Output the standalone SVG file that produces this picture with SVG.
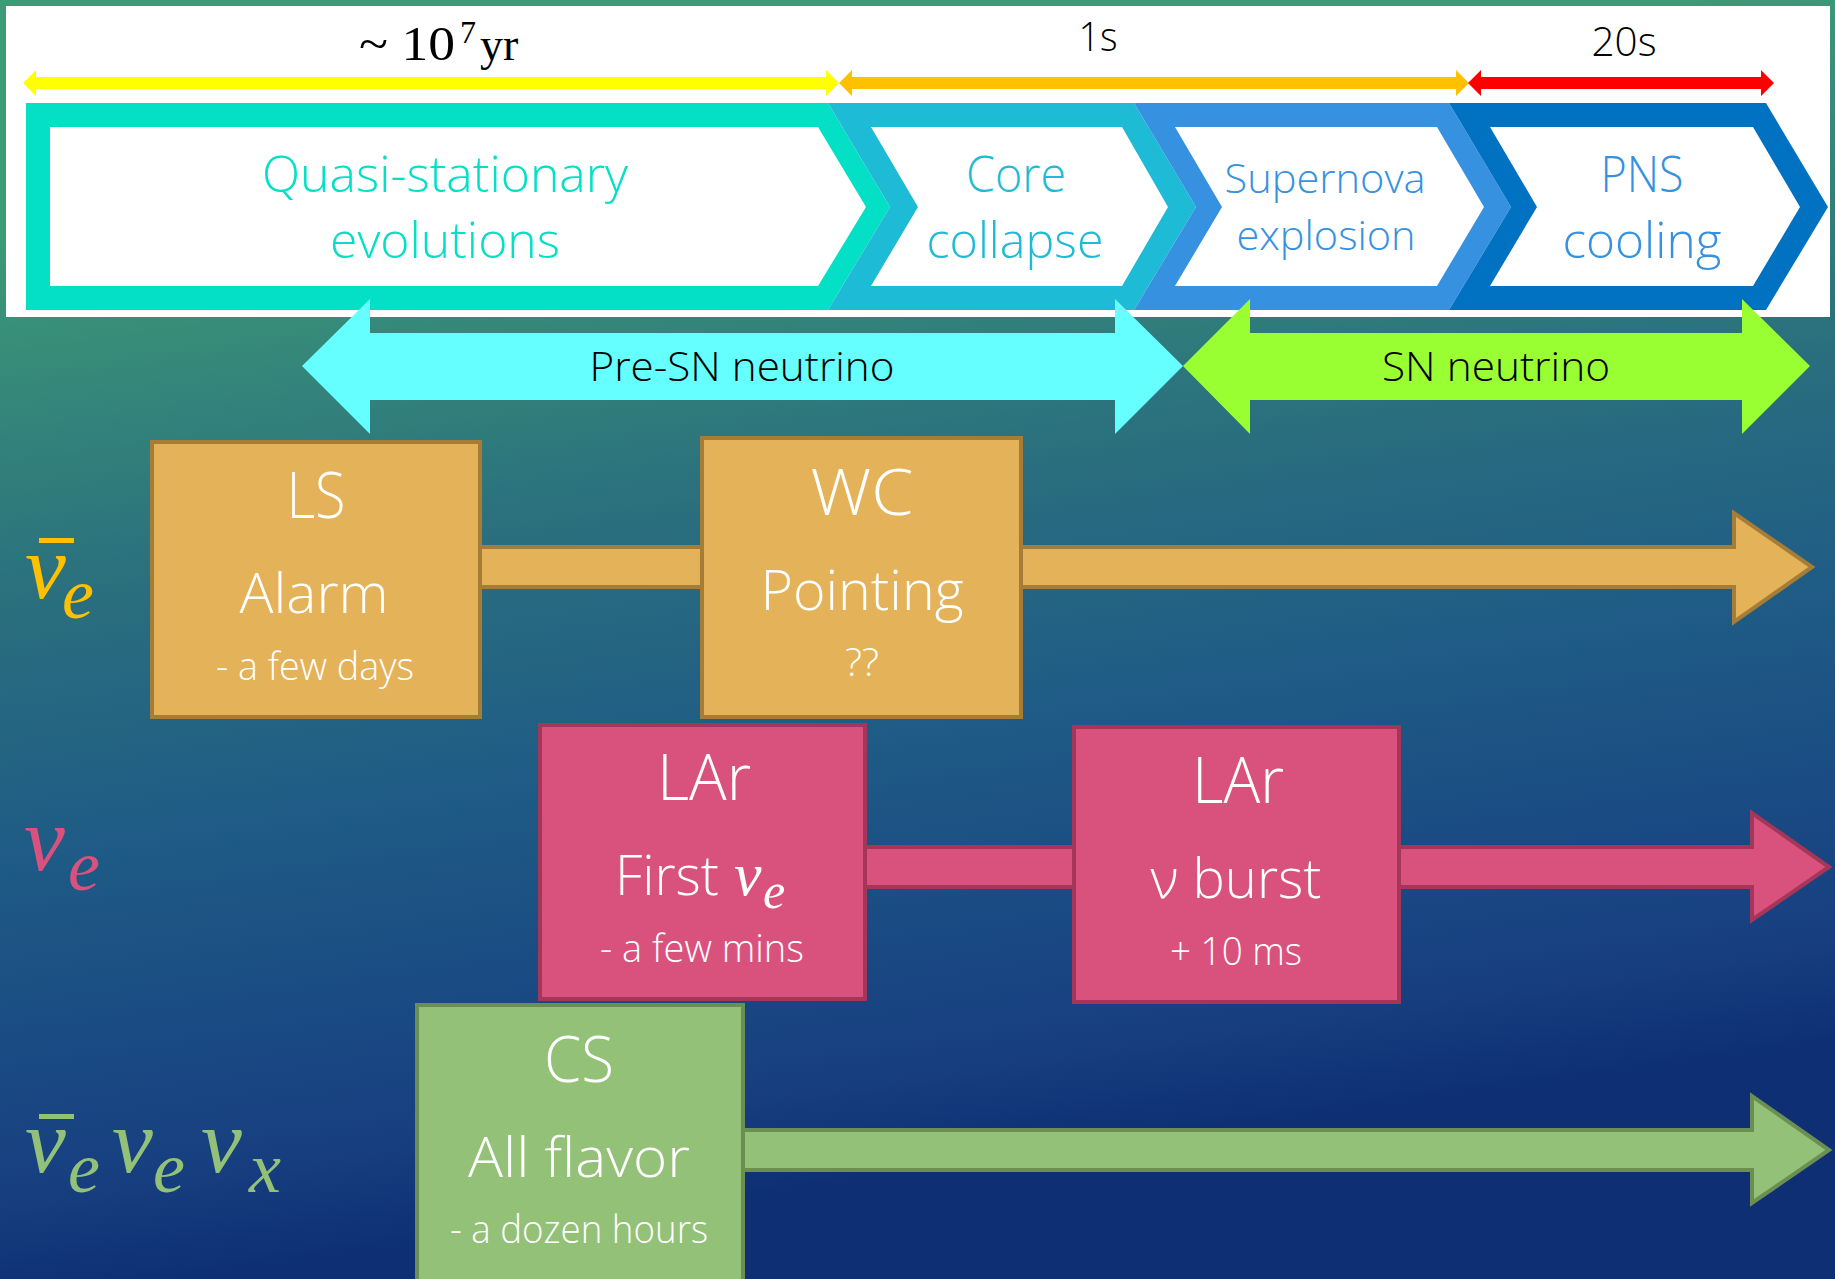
<svg xmlns="http://www.w3.org/2000/svg" width="1835" height="1279" viewBox="0 0 1835 1279">
<defs>
<linearGradient id="bg" x1="0" y1="230" x2="150" y2="1280" gradientUnits="userSpaceOnUse">
<stop offset="0" stop-color="#3D9B76"/>
<stop offset="0.35" stop-color="#2A6F7E"/>
<stop offset="0.6" stop-color="#1E5A86"/>
<stop offset="0.9" stop-color="#173F80"/>
<stop offset="1" stop-color="#0E2F74"/>
</linearGradient>
<style>
.t{font-family:"Open Sans","Liberation Sans",sans-serif;font-weight:300;text-anchor:middle}
.w{fill:#FFFFFF}
.big{font-size:64px}
.mid{font-size:56px}
.sm{font-size:38px}
.ch{font-size:49px}
.math{font-family:"Liberation Serif","DejaVu Serif",serif;font-style:italic}
.nu{font-size:92px}
.sub{font-size:72px}
.box{stroke-width:4}
.ob{fill:#E4B258;stroke:#A67D36}
.pb{fill:#D9527E;stroke:#A53659}
.gb{fill:#93C178;stroke:#6B8F52}
</style>
</defs>
<rect x="0" y="0" width="1835" height="1279" fill="url(#bg)"/>

<g id="header">
<rect x="6" y="6" width="1824" height="311" fill="#FFFFFF"/>
</g>

<g id="timeline-arrows">
<polygon points="23,83 36,70 36,77 826,77 826,70 839,83 826,96 826,89 36,89 36,96" fill="#FFFF00"/>
<polygon points="839,83 852,70 852,77 1456,77 1456,70 1469,83 1456,96 1456,89 852,89 852,96" fill="#FFC000"/>
<polygon points="1468,83 1481,70 1481,77 1761,77 1761,70 1774,83 1761,96 1761,89 1481,89 1481,96" fill="#FF0000"/>
<text font-family="Liberation Serif, serif" fill="#000"><tspan x="359" y="60" font-size="48" textLength="96" lengthAdjust="spacingAndGlyphs">~ 10</tspan><tspan x="460" y="43" font-size="32">7</tspan><tspan x="480" y="60" font-size="46">yr</tspan></text>
<text class="t" x="1098" y="51" font-size="41" fill="#000" textLength="39" lengthAdjust="spacingAndGlyphs">1s</text>
<text class="t" x="1624" y="56" font-size="41" fill="#000" textLength="65" lengthAdjust="spacingAndGlyphs">20s</text>
</g>

<g id="phase-quasi">
<polygon points="26,103 828,103 890,207 828,310 26,310" fill="#03E0C6"/>
<polygon points="50,127 818,127 866,207 818,286 50,286" fill="#FFFFFF"/>
<text class="t ch" x="445" y="192" fill="#03E0C6" textLength="366" lengthAdjust="spacingAndGlyphs">Quasi-stationary</text>
<text class="t ch" x="445" y="258" fill="#03E0C6" textLength="230" lengthAdjust="spacingAndGlyphs">evolutions</text>
</g>
<g id="phase-core">
<polygon points="828,103 1134,103 1196,207 1134,310 828,310 890,207" fill="#1DBBD6"/>
<polygon points="871,127 1122,127 1168,207 1122,286 871,286 918,207" fill="#FFFFFF"/>
<text class="t ch" x="1016" y="192" fill="#1DBBD6" textLength="100" lengthAdjust="spacingAndGlyphs">Core</text>
<text class="t ch" x="1015" y="258" fill="#1DBBD6" textLength="177" lengthAdjust="spacingAndGlyphs">collapse</text>
</g>
<g id="phase-supernova">
<polygon points="1134,103 1449,103 1511,207 1449,310 1134,310 1196,207" fill="#3692E0"/>
<polygon points="1175,127 1437,127 1484,207 1437,286 1175,286 1222,207" fill="#FFFFFF"/>
<text class="t" x="1325" y="193" font-size="40" fill="#3692E0" textLength="201" lengthAdjust="spacingAndGlyphs">Supernova</text>
<text class="t" x="1326" y="250" font-size="40" fill="#3692E0" textLength="179" lengthAdjust="spacingAndGlyphs">explosion</text>
</g>
<g id="phase-pns">
<polygon points="1449,103 1766,103 1828,207 1766,310 1449,310 1511,207" fill="#0171C1"/>
<polygon points="1490,127 1753,127 1800,207 1753,286 1490,286 1537,207" fill="#FFFFFF"/>
<text class="t ch" x="1642" y="192" fill="#3692E0" textLength="83" lengthAdjust="spacingAndGlyphs">PNS</text>
<text class="t ch" x="1642" y="258" fill="#3692E0" textLength="159" lengthAdjust="spacingAndGlyphs">cooling</text>
</g>

<g id="pre-sn-neutrino">
<polygon points="302,366 370,299 370,333 1115,333 1115,299 1183,366 1115,434 1115,400 370,400 370,434" fill="#66FFFF"/>
<text class="t" x="742" y="381" font-size="41" fill="#000" textLength="305" lengthAdjust="spacingAndGlyphs">Pre-SN neutrino</text>
</g>
<g id="sn-neutrino">
<polygon points="1183,366 1250,299 1250,333 1742,333 1742,299 1810,366 1742,434 1742,400 1250,400 1250,434" fill="#99FF33"/>
<text class="t" x="1496" y="381" font-size="41" fill="#000" textLength="228" lengthAdjust="spacingAndGlyphs">SN neutrino</text>
</g>

<g id="connectors">
<rect class="ob box" x="479" y="547" width="224" height="40"/>
<polygon class="ob box" points="1020,547 1734,547 1734,513 1812,567 1734,622 1734,587 1020,587"/>
<rect class="pb box" x="865" y="847" width="210" height="40"/>
<polygon class="pb box" points="1398,847 1752,847 1752,813 1829,867 1752,920 1752,887 1398,887"/>
<polygon class="gb box" points="742,1130 1752,1130 1752,1096 1829,1150 1752,1203 1752,1170 742,1170"/>
</g>

<g id="label-antinu-e" fill="#FFC000">
<rect x="39" y="538" width="35" height="5"/>
<text class="math"><tspan class="nu" x="25" y="598">ν</tspan><tspan class="sub" x="62" y="618">e</tspan></text>
</g>
<g id="label-nu-e" fill="#D9527E">
<text class="math"><tspan class="nu" x="24" y="870">ν</tspan><tspan class="sub" x="68" y="890">e</tspan></text>
</g>
<g id="label-all" fill="#93C178">
<rect x="39" y="1114" width="35" height="5"/>
<text class="math"><tspan class="nu" x="25" y="1172">ν</tspan><tspan class="sub" x="68" y="1192">e</tspan><tspan class="nu" x="112" y="1172">ν</tspan><tspan class="sub" x="153" y="1192">e</tspan><tspan class="nu" x="201" y="1172">ν</tspan><tspan class="sub" x="249" y="1192">x</tspan></text>
</g>

<g id="node-ls">
<rect class="ob box" x="152" y="442" width="328" height="275"/>
<text class="t w big" x="316" y="518" textLength="59" lengthAdjust="spacingAndGlyphs">LS</text>
<text class="t w mid" x="314" y="613" textLength="149" lengthAdjust="spacingAndGlyphs">Alarm</text>
<text class="t w sm" x="315" y="680" textLength="198" lengthAdjust="spacingAndGlyphs">- a few days</text>
</g>
<g id="node-wc">
<rect class="ob box" x="702" y="438" width="319" height="279"/>
<text class="t w big" x="862" y="515" textLength="103" lengthAdjust="spacingAndGlyphs">WC</text>
<text class="t w mid" x="862" y="610" textLength="203" lengthAdjust="spacingAndGlyphs">Pointing</text>
<text class="t w sm" x="862" y="676" textLength="34" lengthAdjust="spacingAndGlyphs">??</text>
</g>
<g id="node-lar-first">
<rect class="pb box" x="540" y="725" width="325" height="274"/>
<text class="t w big" x="704" y="800" textLength="94" lengthAdjust="spacingAndGlyphs">LAr</text>
<text class="w" font-family="Open Sans, Liberation Sans, sans-serif" font-weight="300"><tspan x="615" y="895" font-size="56" textLength="104" lengthAdjust="spacingAndGlyphs">First</tspan><tspan x="734" y="895" font-size="62" font-family="Liberation Serif, serif" font-style="italic">ν</tspan><tspan x="763" y="908" font-size="50" font-family="Liberation Serif, serif" font-style="italic">e</tspan></text>
<text class="t w sm" x="702" y="962" textLength="204" lengthAdjust="spacingAndGlyphs">- a few mins</text>
</g>
<g id="node-lar-burst">
<rect class="pb box" x="1074" y="727" width="325" height="275"/>
<text class="t w big" x="1238" y="803" textLength="92" lengthAdjust="spacingAndGlyphs">LAr</text>
<text class="t w mid" x="1236" y="898" textLength="171" lengthAdjust="spacingAndGlyphs">ν burst</text>
<text class="t w sm" x="1236" y="965" textLength="132" lengthAdjust="spacingAndGlyphs">+ 10 ms</text>
</g>
<g id="node-cs">
<rect class="gb box" x="417" y="1005" width="326" height="290"/>
<text class="t w big" x="579" y="1082" textLength="70" lengthAdjust="spacingAndGlyphs">CS</text>
<text class="t w mid" x="579" y="1177" textLength="222" lengthAdjust="spacingAndGlyphs">All flavor</text>
<text class="t w sm" x="579" y="1243" textLength="258" lengthAdjust="spacingAndGlyphs">- a dozen hours</text>
</g>
</svg>
